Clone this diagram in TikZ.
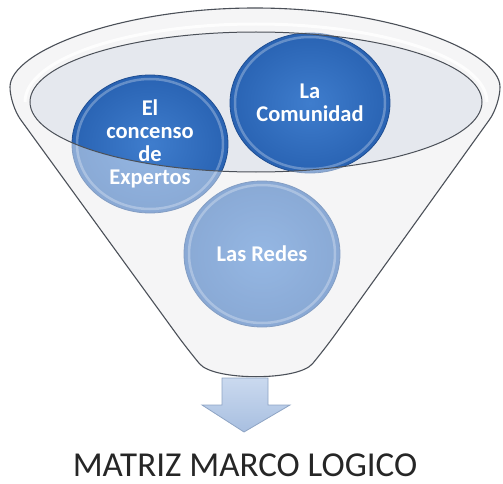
\documentclass[tikz,border=0pt]{standalone}
\usepackage{fontspec}
\setmainfont{Carlito}
\usetikzlibrary{shapes.geometric}
\definecolor{rimfill}{HTML}{E5E8EE}
\definecolor{bodyfill}{HTML}{EDEEF0}
\definecolor{edgegray}{HTML}{4B5058}
\definecolor{bluein}{HTML}{3F7DCD}
\definecolor{blueout}{HTML}{2963B3}
\definecolor{blueedge}{HTML}{1F4E92}
\definecolor{arrowtop}{HTML}{CAD9EF}
\definecolor{arrowbot}{HTML}{A8BFE0}
\definecolor{arrowedge}{HTML}{8EA4C4}
\definecolor{captext}{HTML}{262626}
\tikzset{
  bubble/.style={ellipse, inner sep=0pt, shading=radial, inner color=bluein, outer color=blueout,
    draw=blueedge, line width=0.8pt, text=white, align=center,
    font=\fontsize{22.5}{23}\selectfont\bfseries},
  bevel/.style={draw=white, opacity=0.28, line width=2.5pt},
  funnelline/.style={draw=edgegray, line width=1.1pt},
  caption/.style={text=captext, font=\fontsize{35}{38}\selectfont, inner sep=0pt}
}
\begin{document}
\begin{tikzpicture}[x=1pt,y=-1pt]
\useasboundingbox (0,0) rectangle (503,484);
% funnel base fill
\fill[bodyfill, rounded corners=18pt] (10,105) arc[start angle=180,end angle=360,x radius=245,y radius=97]
  -- (324,350) .. controls (298,381) and (214,381) .. (188,350) -- cycle;
\fill[rimfill] (256,102) ellipse[x radius=226, y radius=70];
% bubbles
\node[bubble, minimum width=156pt, minimum height=138pt] (expertos) at (150,144) {El\\concenso\\de\\Expertos};
\node[bubble, minimum width=160pt, minimum height=140pt] (comunidad) at (310,103) {La\\Comunidad};
\node[bubble, minimum width=156pt, minimum height=146pt] (redes) at (262,254) {Las Redes};
\draw[bevel] (expertos.center) ellipse[x radius=73, y radius=65];
\draw[bevel] (comunidad.center) ellipse[x radius=75, y radius=66];
\draw[bevel] (redes.center) ellipse[x radius=73, y radius=69];
% translucent funnel body over the bubbles, below the rim
\fill[white, opacity=0.45, even odd rule, rounded corners=18pt]
  (10,105) arc[start angle=180,end angle=360,x radius=245,y radius=97]
  -- (324,350) .. controls (298,381) and (214,381) .. (188,350) -- cycle
  [sharp corners] (256,102) ellipse[x radius=226, y radius=70];
% outlines
\draw[white, line width=3pt, opacity=0.8] (25,102) arc[start angle=180,end angle=360,x radius=231,y radius=78];
\draw[funnelline, line width=1pt] (256,102) ellipse[x radius=226, y radius=70];
\draw[funnelline, rounded corners=18pt] (10,105) arc[start angle=180,end angle=360,x radius=245,y radius=97]
  -- (324,350) .. controls (298,381) and (214,381) .. (188,350) -- cycle;
% arrow
\path[top color=arrowtop, bottom color=arrowbot, draw=arrowedge, line width=0.8pt]
  (222,378) -- (268,378) -- (268,405) -- (290,405) -- (244,432) -- (202,405) -- (222,405) -- cycle;
% caption
\node[caption, anchor=base] (matriz) at (245,476) {MATRIZ MARCO LOGICO};
\end{tikzpicture}
\end{document}
